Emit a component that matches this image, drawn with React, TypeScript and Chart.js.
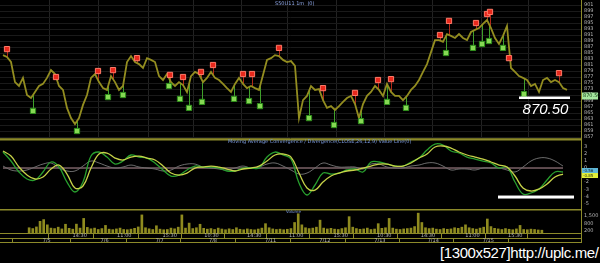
import React, { useEffect, useRef } from "react";
import { Chart, registerables } from "chart.js";
Chart.register(...registerables);

// ---------- DATA ----------
// one close per bar (bar index 0..141)
const PRICE = [
  884.3, 883.7, 882.0, 875.3, 874.0, 876.7, 871.0, 870.0, 872.0, 874.0,
  874.7, 876.7, 879.3, 878.0, 874.0, 872.7, 866.7, 863.3, 861.3, 863.3,
  867.7, 871.0, 876.7, 878.0, 875.3, 873.3, 872.7, 877.3, 875.3, 872.7,
  874.0, 882.0, 884.0, 882.0, 881.3, 880.0, 883.3, 882.7, 882.0, 877.3,
  876.0, 878.0, 875.3, 874.0, 875.3, 874.3, 872.0, 877.3, 878.7, 878.0,
  875.3, 876.7, 878.7, 876.7, 876.0, 874.7, 873.3, 872.0, 874.7, 876.7,
  874.7, 873.3, 874.0, 873.3, 872.7, 877.7, 882.7, 883.3, 884.3, 884.0,
  882.7, 882.0, 882.3, 880.7, 863.3, 869.3, 870.7, 874.0, 872.7, 873.0,
  869.3, 866.7, 867.3, 866.0, 867.3, 868.7, 870.0, 870.7, 868.0, 863.3,
  868.0, 870.7, 872.0, 874.0, 872.7, 870.7, 874.7, 872.0, 870.7, 870.7,
  869.3, 870.7, 872.7, 874.0, 876.0, 878.7, 881.3, 885.3, 889.3, 889.3,
  888.7, 891.3, 890.7, 890.0, 891.3, 890.0, 889.3, 892.0, 892.7, 893.3,
  894.7, 896.0, 893.3, 890.0, 888.0, 890.7, 894.0, 880.0, 878.7, 877.3,
  876.7, 876.0, 874.0, 874.7, 872.0, 876.0, 876.7, 875.3, 876.0, 875.3,
  873.3, 872.7,
];

const VOLUME = [
  450, 380, 520, 1000, 1150, 700, 420, 380, 500, 350,
  750, 400, 330, 760, 420, 1250, 480, 360, 420, 300,
  380, 650, 330, 290, 350, 420, 300, 280, 330, 400,
  520, 1550, 450, 360, 300, 620, 330, 280, 300, 420,
  360, 500, 1550, 420, 850, 380, 450, 750, 400, 330,
  380, 300, 420, 340, 280, 360, 300, 450, 320, 280,
  350, 300, 270, 340, 420, 800, 450, 350, 300, 330,
  280, 320, 380, 900, 1650, 700, 450, 380, 420, 500,
  1100, 420, 350, 400, 330, 300, 380, 450, 1400, 500,
  380, 320, 350, 420, 300, 340, 800, 400, 450, 1250,
  420, 330, 300, 350, 380, 420, 550, 1700, 900, 450,
  380, 420, 330, 300, 380, 320, 350, 450, 400, 500,
  700, 450, 380, 330, 420, 500, 1200, 550, 400, 350,
  300, 380, 320, 280, 350, 650, 300, 280, 330, 300,
  260, 240,
];

// MACD panel series, one sample every MACD_STEP bars
const MACD_STEP = 2;
const MACD_LINE = [
  2.26, 0.99, -0.56, -1.55, -1.69, -0.56, 0.85, 0.14, -1.98, -3.39,
  -1.98, 1.69, 2.26, 1.55, 0.56, 0.99, 1.84, 1.55, 1.41, 0.71,
  -0.28, -1.13, -0.99, -0.28, 0.28, 0.14, 0.14, 0, -0.42, -0.42,
  0, 0, 0, 1.55, 2.26, 1.84, 1.27, -2.12, -3.81, -2.4,
  -0.71, -0.85, -0.71, -0.28, -0.14, -0.56, 0.85, 0.85, 0.56, 0.28,
  0.28, 0.85, 1.41, 2.54, 3.39, 3.25, 2.4, 2.12, 1.55, 1.27,
  0.99, 0.71, 0, 0.14, -1.98, -3.67, -3.53, -2.97, -1.69, -0.56,
  -0.56,
];
const SIGNAL_LINE = [
  2.4, 1.69, 0.14, -0.99, -1.55, -1.27, -0.14, 0.42, -0.85, -2.82,
  -2.54, 0, 1.98, 2.12, 1.41, 1.13, 1.55, 1.69, 1.41, 1.13,
  0.28, -0.71, -0.99, -0.71, 0, 0.14, 0.28, 0.14, -0.14, -0.42,
  -0.14, 0, 0.28, 0.99, 1.84, 1.98, 1.55, -0.71, -2.82, -3.11,
  -1.98, -1.13, -0.71, -0.42, -0.28, 0, 0.28, 0.56, 0.56, 0.28,
  0.28, 0.71, 1.41, 1.98, 2.97, 3.11, 2.82, 2.26, 1.84, 1.55,
  1.27, 0.85, 0.42, 0.14, -1.13, -2.82, -3.25, -2.97, -2.26, -1.27,
  -0.85,
];
const DIFF_LINE = [
  0.28, -0.28, -0.42, -0.28, 0.14, 0.56, 0.71, 0, -0.42, -0.42,
  0.28, 0.99, 0.71, 0.28, 0, 0.14, 0.42, 0.14, 0, -0.14,
  -0.42, -0.28, 0.28, 0.56, 0.56, 0.14, 0, -0.14, -0.28, 0,
  0.28, 0, 0.14, 0.56, 0.71, 0.28, -0.28, -0.85, -0.71, 0,
  0.71, 0.42, 0.14, 0.14, 0.14, -0.14, 0.56, 0.56, 0.14, 0,
  0, 0.28, 0.42, 0.71, 0.71, 0.28, -0.28, -0.14, -0.14, -0.28,
  0, 0, 0, -0.28, -0.56, 0.14, 0.99, 1.41, 1.41, 0.99,
  0.28,
];
const VALUE_LINE = 0;

// signals (bar position, price)
const SELL_BARS = [1, 13.25, 23.75, 27.5, 33.5, 41.75, 45, 49.5, 52.5, 60, 62.25, 69, 80, 88, 93.75, 97, 109.25, 111.5, 118.25, 121, 121.75, 126.5, 139];
const SELL_PRICES = [886.3, 877.0, 879.0, 879.3, 883.3, 877.7, 877.0, 878.7, 881.0, 878.0, 878.0, 886.7, 873.3, 871.7, 876.0, 876.3, 891.0, 895.7, 895.0, 898.0, 898.7, 883.3, 878.3];
const BUY_BARS = [7.5, 18.5, 26.25, 30, 41.5, 44.25, 46.5, 49.75, 57.75, 61.5, 64.25, 76.5, 82.75, 89.5, 96, 100.75, 110.75, 117.5, 119.75, 121.5, 125, 130.25];
const BUY_PRICES = [865.7, 859.0, 870.3, 871.0, 874.0, 869.7, 866.7, 868.7, 869.7, 869.0, 867.3, 863.3, 861.0, 862.3, 868.7, 866.7, 885.0, 886.7, 888.0, 889.0, 886.7, 871.3];

// axes
const PRICE_TICKS = [901, 899, 897, 895, 893, 891, 889, 887, 885, 883, 881, 879, 877, 875, 873, 871, 869, 867, 865, 863, 861, 859, 857];
const MACD_TICKS = [3, 2, 1, 0, -1, -2, -3, -4, -5];
const VOLUME_TICKS = [200, 800, 1500];
const TIME_TICKS = [11.5, 23.75, 36.25, 47.75, 59.5, 71, 83.25, 95.25, 107.25, 119.5, 131.25];
const TIME_LABELS = ["14:30", "11:00", "15:30", "10:30", "14:30", "11:00", "15:30", "10:30", "14:30", "11:00", "15:30"];
const DATE_TICKS = [1.75, 18, 33.5, 48.5, 64.25, 79.5, 95, 110, 125.5];
const DATE_LABELS = ["7/5", "7/6", "7/7", "7/8", "7/11", "7/12", "7/13", "7/14", "7/15"];

const LAST_PRICE = 870.5;
const PRICE_MARK_FROM = 129;
const PRICE_MARK_TO = 141.75;
const MACD_MARK_VALUE = -4.1;
const MACD_MARK_FROM = 123.75;
const MACD_MARK_TO = 142.75;

const PRICE_TITLE = "S50U11 1m  (0)";
const MACD_TITLE = "Moving Average Convergence / Divergence(CLOSE,26,12,9) Value Line(0)";
const VOLUME_TITLE = "Volume";

// ---------- STYLE ----------
const X_MIN = -0.75;
const X_MAX = 144.5;
const AXIS_W = 19;
const OLIVE = "#8c8a2a";
const TXT = "#b4b4b4";
const FONT_FAMILY = "DejaVu Sans";
const TICK_FONT = { family: FONT_FAMILY, size: 5 };

const priceAt = (b: number) => {
  const i0 = Math.max(0, Math.min(PRICE.length - 1, Math.floor(b)));
  const i1 = Math.min(PRICE.length - 1, i0 + 1);
  const t = b - i0;
  return PRICE[i0] * (1 - t) + PRICE[i1] * t;
};

const rightAxisFit = (s: any) => {
  s.width = AXIS_W;
  s.paddingTop = 0;
  s.paddingBottom = 0;
};

const hiddenX = (gridColor: string | null) => ({
  type: "linear",
  min: X_MIN,
  max: X_MAX,
  afterBuildTicks: (s: any) => {
    s.ticks = TIME_TICKS.map((v) => ({ value: v }));
  },
  ticks: { display: false },
  grid: { display: gridColor !== null, color: gridColor || "transparent", drawTicks: false },
  border: { display: false },
  afterFit: (s: any) => {
    s.height = 0;
    s.paddingLeft = 0;
    s.paddingRight = 0;
  },
});

const baseOptions = (scales: any) => ({
  responsive: false,
  animation: false,
  devicePixelRatio: 1,
  events: [],
  layout: { padding: 0, autoPadding: false },
  plugins: { legend: { display: false }, tooltip: { enabled: false }, title: { display: false } },
  scales,
});

function drawText(ctx: CanvasRenderingContext2D, text: string, x: number, y: number, color: string, size = 5, align: CanvasTextAlign = "left") {
  ctx.save();
  ctx.font = `${size}px "${FONT_FAMILY}"`;
  ctx.fillStyle = color;
  ctx.textAlign = align;
  ctx.textBaseline = "middle";
  ctx.fillText(text, x, y);
  ctx.restore();
}

export default function App() {
  const priceRef = useRef<HTMLCanvasElement>(null);
  const macdRef = useRef<HTMLCanvasElement>(null);
  const volRef = useRef<HTMLCanvasElement>(null);

  useEffect(() => {
    // ---------- PRICE ----------
    const priceExtras = {
      id: "priceExtras",
      beforeDatasetsDraw(chart: any) {
        const { ctx, scales } = chart;
        const x = scales.x, y = scales.y;
        ctx.save();
        ctx.lineWidth = 1;
        const stems = (bars: number[], prices: number[], color: string) => {
          ctx.strokeStyle = color;
          bars.forEach((b, i) => {
            const px = Math.round(x.getPixelForValue(b)) + 0.5;
            ctx.beginPath();
            ctx.moveTo(px, y.getPixelForValue(prices[i]));
            ctx.lineTo(px, y.getPixelForValue(priceAt(b)));
            ctx.stroke();
          });
        };
        stems(BUY_BARS, BUY_PRICES, "#3fa02a");
        stems(SELL_BARS, SELL_PRICES, "#b02818");
        ctx.restore();
      },
      afterDraw(chart: any) {
        const { ctx, scales, chartArea } = chart;
        const x = scales.x, y = scales.y;
        const yy = y.getPixelForValue(LAST_PRICE);
        const x0 = x.getPixelForValue(PRICE_MARK_FROM);
        const x1 = x.getPixelForValue(PRICE_MARK_TO);
        ctx.save();
        ctx.fillStyle = "#ffffff";
        ctx.fillRect(x0, yy, x1 - x0, 2.5);
        ctx.font = `italic 15px "Liberation Sans"`;
        ctx.textAlign = "center";
        ctx.textBaseline = "top";
        ctx.fillText(LAST_PRICE.toFixed(2), (x0 + x1) / 2 + 1, yy + 6);
        // bottom border of panel
        ctx.strokeStyle = "#6e6c20";
        ctx.lineWidth = 1;
        ctx.beginPath();
        ctx.moveTo(0, chartArea.bottom - 0.5);
        ctx.lineTo(chartArea.right, chartArea.bottom - 0.5);
        ctx.stroke();
        // last price box on axis
        ctx.fillStyle = "#a6e8a0";
        ctx.fillRect(chartArea.right + 1, yy - 4, 16, 7);
        ctx.restore();
        drawText(ctx, LAST_PRICE.toFixed(2), chartArea.right + 2, yy - 0.5, "#123a12", 5);
        drawText(ctx, PRICE_TITLE, 275, 4, "#8ea6e6", 5);
      },
    };

    const priceChart = new Chart(priceRef.current!, {
      type: "line",
      data: {
        datasets: [
          {
            data: SELL_BARS.map((b, i) => ({ x: b, y: SELL_PRICES[i] })),
            showLine: false,
            pointStyle: "rect",
            pointRadius: 3.7,
            backgroundColor: "#e8281c",
            borderColor: "#ff7a68",
            borderWidth: 1,
            order: 0,
          },
          {
            data: BUY_BARS.map((b, i) => ({ x: b, y: BUY_PRICES[i] })),
            showLine: false,
            pointStyle: "rect",
            pointRadius: 3.7,
            backgroundColor: "#86d854",
            borderColor: "#2f8f1c",
            borderWidth: 1,
            order: 0,
          },
          {
            data: PRICE.map((p, i) => ({ x: i, y: p })),
            borderColor: "#938d20",
            borderWidth: 1.8,
            pointRadius: 0,
            tension: 0,
            order: 1,
          },
        ],
      },
      options: baseOptions({
        x: hiddenX("#222222"),
        y: {
          type: "linear",
          position: "right",
          min: 902.67 - 139 / 3,
          max: 902.67,
          afterBuildTicks: (s: any) => {
            s.ticks = PRICE_TICKS.map((v) => ({ value: v }));
          },
          ticks: { color: TXT, font: TICK_FONT, padding: 3, autoSkip: false, callback: (v: any) => String(v) },
          grid: { color: "#1a1a1a", drawTicks: false },
          border: { color: OLIVE },
          afterFit: rightAxisFit,
        },
      }) as any,
      plugins: [priceExtras],
    } as any);

    // ---------- MACD ----------
    const macdExtras = {
      id: "macdExtras",
      afterDraw(chart: any) {
        const { ctx, scales, chartArea } = chart;
        const x = scales.x, y = scales.y;
        ctx.save();
        ctx.strokeStyle = OLIVE;
        ctx.lineWidth = 1.5;
        ctx.beginPath();
        ctx.moveTo(0, chartArea.top + 0.75);
        ctx.lineTo(chartArea.right, chartArea.top + 0.75);
        ctx.stroke();
        const yy = y.getPixelForValue(MACD_MARK_VALUE);
        const x0 = x.getPixelForValue(MACD_MARK_FROM);
        const x1 = x.getPixelForValue(MACD_MARK_TO);
        ctx.fillStyle = "#ffffff";
        ctx.fillRect(x0, yy - 1.5, x1 - x0, 3);
        // last value boxes
        const macdLast = MACD_LINE[MACD_LINE.length - 1];
        const sigLast = SIGNAL_LINE[SIGNAL_LINE.length - 1];
        const by = y.getPixelForValue(0);
        ctx.fillStyle = "#5fb8d8";
        ctx.fillRect(chartArea.right + 1, by, 16, 5);
        ctx.fillStyle = "#e2f03a";
        ctx.fillRect(chartArea.right + 1, by + 5, 16, 5);
        ctx.restore();
        drawText(ctx, macdLast.toFixed(2), chartArea.right + 2, by + 2.5, "#102030", 4);
        drawText(ctx, sigLast.toFixed(2), chartArea.right + 2, by + 7.5, "#303010", 4);
        drawText(ctx, MACD_TITLE, 228, 3, "#7a98dc", 5);
      },
    };

    const macdX = (arr: number[]) => arr.map((v, k) => ({ x: k * MACD_STEP, y: v }));
    const lastBar = (MACD_LINE.length - 1) * MACD_STEP;

    const macdChart = new Chart(macdRef.current!, {
      type: "line",
      data: {
        datasets: [
          {
            data: [{ x: 0, y: VALUE_LINE }, { x: lastBar, y: VALUE_LINE }],
            borderColor: "#b8929a",
            borderWidth: 1,
            pointRadius: 0,
            order: 4,
          },
          {
            data: macdX(DIFF_LINE),
            borderColor: "#6c6c6c",
            borderWidth: 1,
            pointRadius: 0,
            tension: 0.4,
            order: 3,
          },
          {
            data: macdX(MACD_LINE),
            borderColor: "#28a02e",
            borderWidth: 1.3,
            pointRadius: 0,
            tension: 0.4,
            order: 2,
          },
          {
            data: macdX(SIGNAL_LINE),
            borderColor: "#c6d248",
            borderWidth: 1.3,
            pointRadius: 0,
            tension: 0.4,
            order: 1,
          },
        ],
      },
      options: baseOptions({
        x: hiddenX(null),
        y: {
          type: "linear",
          position: "right",
          min: -5.79,
          max: 4.1,
          afterBuildTicks: (s: any) => {
            s.ticks = MACD_TICKS.map((v) => ({ value: v }));
          },
          ticks: { color: TXT, font: TICK_FONT, padding: 3, autoSkip: false, callback: (v: any) => String(v) },
          grid: { display: false, drawTicks: false },
          border: { color: OLIVE },
          afterFit: rightAxisFit,
        },
      }) as any,
      plugins: [macdExtras],
    } as any);

    // ---------- VOLUME ----------
    const volExtras = {
      id: "volExtras",
      afterDraw(chart: any) {
        const { ctx, chartArea, height } = chart;
        ctx.save();
        ctx.strokeStyle = OLIVE;
        ctx.lineWidth = 1.5;
        ctx.beginPath();
        ctx.moveTo(0, chartArea.top + 0.75);
        ctx.lineTo(chartArea.right, chartArea.top + 0.75);
        ctx.stroke();
        ctx.lineWidth = 1;
        ctx.beginPath();
        ctx.moveTo(0, height - 0.5);
        ctx.lineTo(chartArea.right, height - 0.5);
        ctx.moveTo(chartArea.right + 0.5, chartArea.bottom);
        ctx.lineTo(chartArea.right + 0.5, height);
        ctx.stroke();
        ctx.restore();
        drawText(ctx, VOLUME_TITLE, 286, 2.5, "#7a98dc", 4);
      },
    };

    const bottomAxis = (ticks: number[], labels: string[], weight: number) => ({
      type: "linear",
      position: "bottom",
      weight,
      min: X_MIN,
      max: X_MAX,
      afterBuildTicks: (s: any) => {
        s.ticks = ticks.map((v) => ({ value: v }));
      },
      ticks: {
        display: true,
        color: TXT,
        font: TICK_FONT,
        align: "start",
        padding: -5,
        maxRotation: 0,
        autoSkip: false,
        callback: (_v: any, i: number) => " " + labels[i],
      },
      grid: { drawOnChartArea: false, drawTicks: true, tickLength: 5, tickColor: OLIVE },
      border: { color: OLIVE },
      afterFit: (s: any) => {
        s.height = 5;
        s.paddingLeft = 0;
        s.paddingRight = 0;
      },
    });

    const volChart = new Chart(volRef.current!, {
      type: "bar",
      data: {
        datasets: [
          {
            data: VOLUME.map((v, i) => ({ x: i, y: v })),
            backgroundColor: "#8f8b1f",
            barThickness: 2,
            xAxisID: "x",
          },
        ],
      },
      options: baseOptions({
        x: bottomAxis(TIME_TICKS, TIME_LABELS, 0),
        x2: bottomAxis(DATE_TICKS, DATE_LABELS, 1),
        y: {
          type: "linear",
          position: "right",
          min: 0,
          max: 2057,
          afterBuildTicks: (s: any) => {
            s.ticks = VOLUME_TICKS.map((v) => ({ value: v }));
          },
          ticks: { color: TXT, font: TICK_FONT, padding: 3, autoSkip: false, callback: (v: any) => Number(v).toLocaleString("en-US") },
          grid: { display: false, drawTicks: false },
          border: { color: OLIVE },
          afterFit: rightAxisFit,
        },
      }) as any,
      plugins: [volExtras],
    } as any);

    return () => {
      priceChart.destroy();
      macdChart.destroy();
      volChart.destroy();
    };
  }, []);

  return (
    <div style={{ position: "absolute", left: 0, top: 0, width: 600, height: 263, background: "#000", overflow: "hidden" }}>
      <canvas ref={priceRef} width={600} height={139} style={{ position: "absolute", left: 0, top: 0 }} />
      <canvas ref={macdRef} width={600} height={70} style={{ position: "absolute", left: 0, top: 139 }} />
      <canvas ref={volRef} width={600} height={34} style={{ position: "absolute", left: 0, top: 209 }} />
      <div
        style={{
          position: "absolute",
          left: 440,
          top: 245,
          color: "#fff",
          fontFamily: '"Liberation Sans", sans-serif',
          fontSize: 15,
          letterSpacing: -0.4,
          lineHeight: "16px",
          whiteSpace: "nowrap",
        }}
      >
        [1300x527]http://uplc.me/
      </div>
    </div>
  );
}
